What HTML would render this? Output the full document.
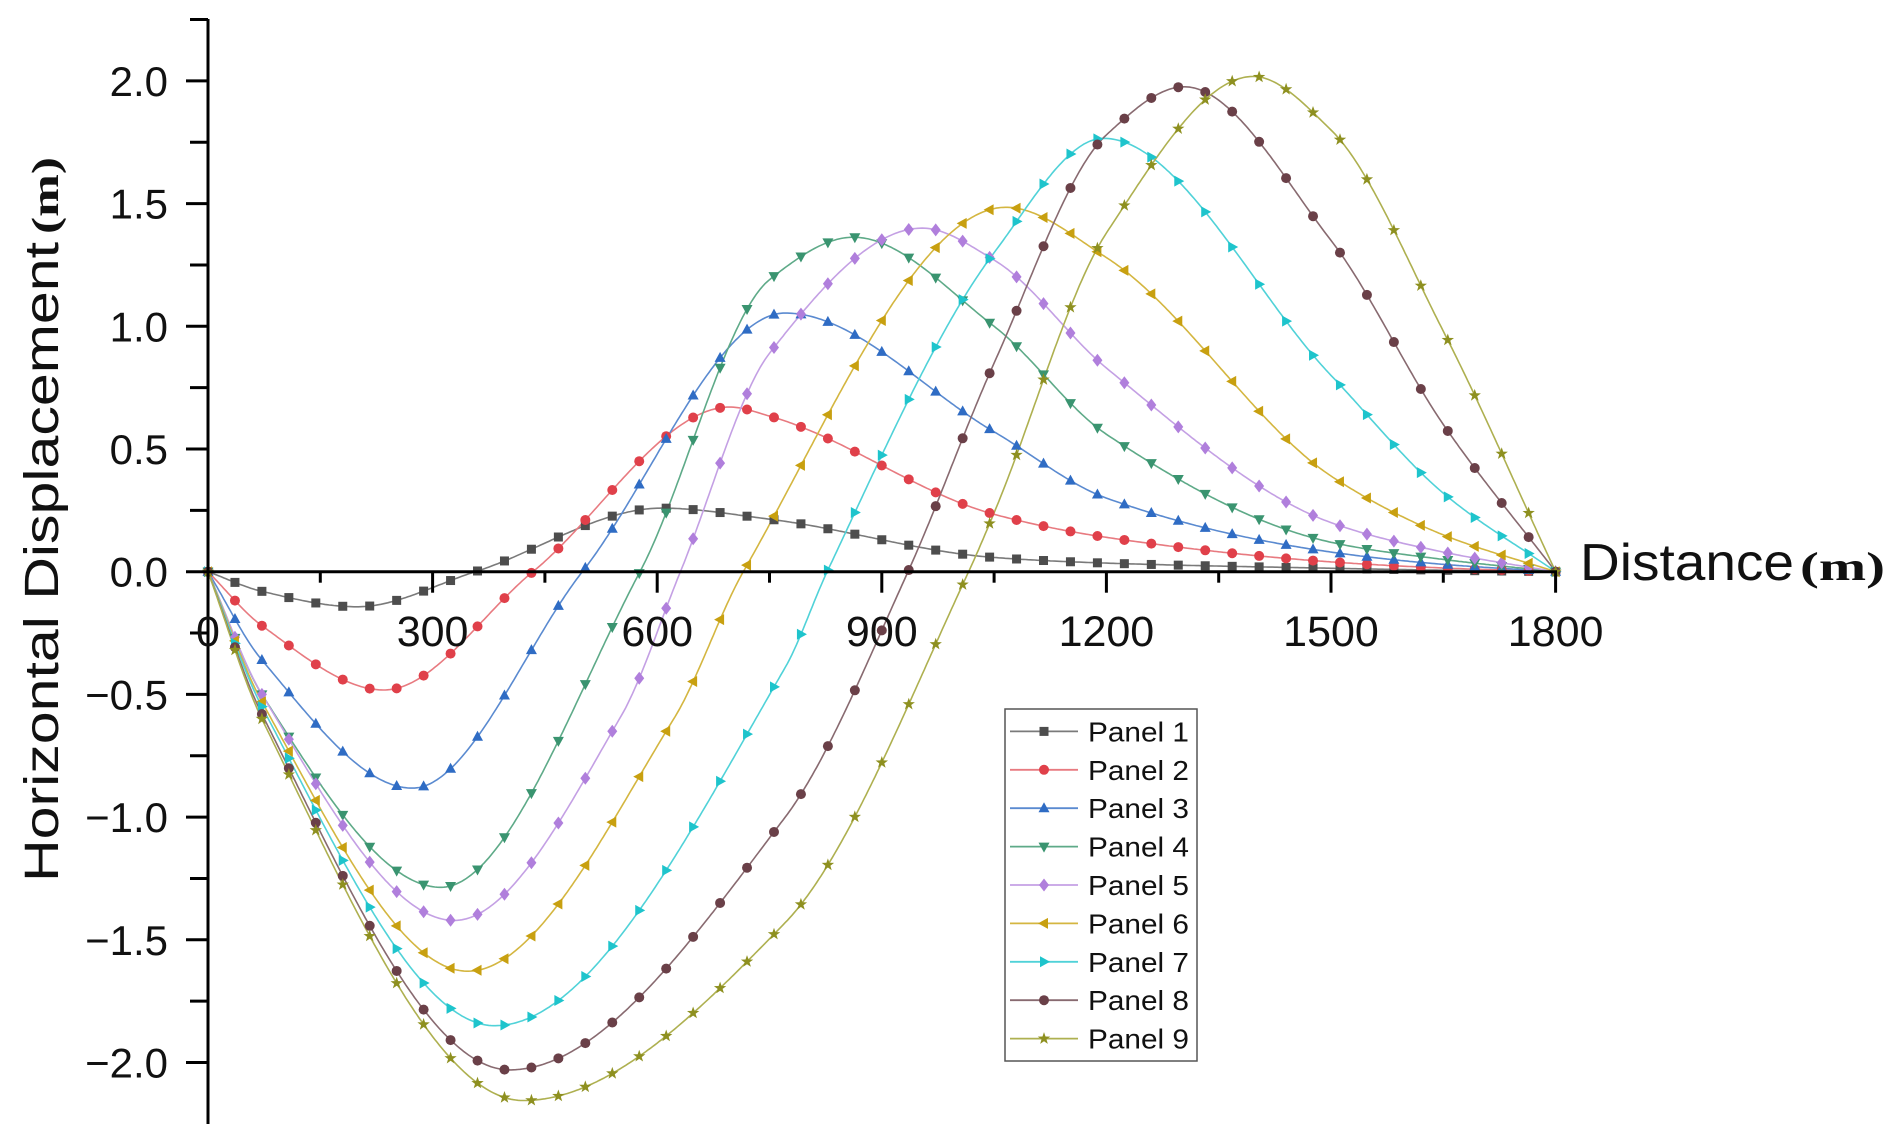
<!DOCTYPE html>
<html><head><meta charset="utf-8"><style>
html,body{margin:0;padding:0;background:#fff;}
svg{display:block;}
</style></head><body>
<svg id="c" width="1895" height="1141" viewBox="0 0 1895 1141" xmlns="http://www.w3.org/2000/svg" font-family="Liberation Sans, Arial, sans-serif">
<rect width="1895" height="1141" fill="#fff"/>
<g id="series"></g>
<g id="axes" stroke="#000" stroke-width="3" fill="none"></g>
<g id="labels" fill="#111"></g>
<g id="legend"></g>
</svg>
<script>
const NS="http://www.w3.org/2000/svg";
const X0=208, XS=224.6/300, Y0=571.7, YS=245.4;
const px=m=>X0+m*XS, py=v=>Y0-v*YS;
function el(tag,attrs,parent,text){const e=document.createElementNS(NS,tag);for(const k in attrs)e.setAttribute(k,attrs[k]);if(text!==undefined)e.textContent=text;parent.appendChild(e);return e;}
const axes=document.getElementById('axes'), labels=document.getElementById('labels'), series=document.getElementById('series'), legend=document.getElementById('legend');
// axes
el('line',{x1:X0,y1:19,x2:X0,y2:1124},axes);
el('line',{x1:X0,y1:Y0,x2:1557,y2:Y0},axes);
for(let i=-8;i<=9;i++){const v=i*0.25;const y=py(v);const major=(i%2===0);
  el('line',{x1:X0-(major?22:18),y1:y,x2:X0,y2:y},axes);
  if(major){el('text',{x:168,y:y+15,'text-anchor':'end','font-size':42},labels,(v<0?'\u2212':'')+Math.abs(v).toFixed(1));}
}
for(let i=1;i<=12;i++){const m=i*150;const x=px(m);const major=(i%2===0);
  el('line',{x1:x,y1:Y0,x2:x,y2:Y0+(major?21:11)},axes);
}
for(let i=0;i<=6;i++){el('text',{x:px(i*300),y:646,'text-anchor':'middle','font-size':43},labels,String(i*300));}
// axis titles
el('text',{x:1580,y:580,'font-size':52,textLength:214,lengthAdjust:'spacingAndGlyphs'},labels,'Distance');
el('text',{x:1800,y:580,'font-size':40,'font-weight':'bold','font-family':'Liberation Serif, serif',textLength:85,lengthAdjust:'spacingAndGlyphs'},labels,'(m)');
const yl=el('g',{transform:'translate(58,882) rotate(-90)'},labels);
el('text',{x:0,y:0,'font-size':48,textLength:640,lengthAdjust:'spacingAndGlyphs'},yl,'Horizontal Displacement');
el('text',{x:648,y:0,'font-size':38,'font-weight':'bold','font-family':'Liberation Serif, serif',textLength:77,lengthAdjust:'spacingAndGlyphs'},yl,'(m)');

const S=[
 {c:'#4d4d4d',l:'#7a7a7a',mk:'sq',p:[[0,0],[72,-0.08],[199,-0.143],[357,0],[606,0.259],[750,0.214],[1050,0.058],[1200,0.035],[1500,0.014],[1650,0.006],[1800,0]]},
 {c:'#e0404a',l:'#e87a80',mk:'ci',p:[[0,0],[72,-0.22],[235,-0.482],[434,0],[697,0.671],[750,0.634],[1050,0.234],[1200,0.14],[1500,0.04],[1650,0.015],[1800,0]]},
 {c:'#2f6cc4',l:'#5a8ad0',mk:'tu',p:[[0,0],[72,-0.36],[273,-0.882],[500,0],[771,1.054],[1050,0.57],[1200,0.30],[1500,0.08],[1650,0.03],[1800,0]]},
 {c:'#3a9470',l:'#5eaa88',mk:'td',p:[[0,0],[72,-0.5],[311,-1.286],[577,0],[750,1.19],[862,1.363],[1050,1.0],[1200,0.56],[1500,0.12],[1650,0.05],[1800,0]]},
 {c:'#b07fdc',l:'#c4a0e4',mk:'di',p:[[0,0],[72,-0.5],[329,-1.421],[552,-0.587],[631,0],[750,0.89],[954,1.40],[1050,1.27],[1200,0.83],[1500,0.2],[1650,0.08],[1800,0]]},
 {c:'#c8a010',l:'#d4b640',mk:'tl',p:[[0,0],[72,-0.53],[347,-1.628],[623,-0.595],[715,0],[1066,1.485],[1200,1.28],[1500,0.39],[1650,0.15],[1800,0]]},
 {c:'#1ec4cc',l:'#50d2d8',mk:'tr',p:[[0,0],[72,-0.55],[383,-1.85],[771,-0.39],[827,0],[1050,1.3],[1196,1.766],[1500,0.8],[1650,0.32],[1800,0]]},
 {c:'#6a4048',l:'#886a70',mk:'ci',p:[[0,0],[72,-0.58],[403,-2.03],[771,-1.0],[935,0],[1050,0.85],[1200,1.78],[1304,1.976],[1500,1.35],[1650,0.6],[1800,0]]},
 {c:'#8e9020',l:'#aeb050',mk:'st',p:[[0,0],[72,-0.6],[421,-2.155],[771,-1.43],[1016,0],[1050,0.24],[1200,1.38],[1396,2.018],[1500,1.8],[1650,0.98],[1800,0]]}
];
function mono(pts){const n=pts.length,x=pts.map(p=>p[0]),y=pts.map(p=>p[1]);const d=[],m=new Array(n);
 for(let i=0;i<n-1;i++)d.push((y[i+1]-y[i])/(x[i+1]-x[i]));
 m[0]=d[0];m[n-1]=d[n-2];
 for(let i=1;i<n-1;i++){if(d[i-1]*d[i]<=0)m[i]=0;else{const w1=2*(x[i+1]-x[i])+(x[i]-x[i-1]),w2=(x[i+1]-x[i])+2*(x[i]-x[i-1]);m[i]=(w1+w2)/(w1/d[i-1]+w2/d[i]);}}
 return t=>{let i=0;while(i<n-2&&t>x[i+1])i++;const h=x[i+1]-x[i],s=(t-x[i])/h;const h00=2*s*s*s-3*s*s+1,h10=s*s*s-2*s*s+s,h01=-2*s*s*s+3*s*s,h11=s*s*s-s*s;return h00*y[i]+h10*h*m[i]+h01*y[i+1]+h11*h*m[i+1];};}
function marker(type,x,y,c,g){const r=5;
 switch(type){
 case 'sq':el('rect',{x:x-4.5,y:y-4.5,width:9,height:9,fill:c},g);break;
 case 'ci':el('circle',{cx:x,cy:y,r:5,fill:c},g);break;
 case 'tu':el('polygon',{points:`${x},${y-6} ${x-5.5},${y+4} ${x+5.5},${y+4}`,fill:c},g);break;
 case 'td':el('polygon',{points:`${x},${y+6} ${x-5.5},${y-4} ${x+5.5},${y-4}`,fill:c},g);break;
 case 'tl':el('polygon',{points:`${x-6},${y} ${x+4},${y-5.5} ${x+4},${y+5.5}`,fill:c},g);break;
 case 'tr':el('polygon',{points:`${x+6},${y} ${x-4},${y-5.5} ${x-4},${y+5.5}`,fill:c},g);break;
 case 'di':el('polygon',{points:`${x},${y-6.5} ${x+5},${y} ${x},${y+6.5} ${x-5},${y}`,fill:c},g);break;
 case 'st':{let p=[];for(let k=0;k<10;k++){const a=-Math.PI/2+k*Math.PI/5,rr=k%2?2.6:6.5;p.push((x+rr*Math.cos(a)).toFixed(1)+','+(y+rr*Math.sin(a)).toFixed(1));}el('polygon',{points:p.join(' '),fill:c},g);break;}
 }}
S.forEach(s=>{const f=mono(s.p);let d='';for(let m=0;m<=1800;m+=3){d+=(m?'L':'M')+px(m).toFixed(1)+','+py(f(m)).toFixed(1);}
 el('path',{d:d,fill:'none',stroke:s.l,'stroke-width':1.6},series);});
S.forEach(s=>{const f=mono(s.p);for(let m=0;m<=1800;m+=36){marker(s.mk,px(m),py(f(m)),s.c,series);}});
// legend
el('rect',{x:1005,y:709,width:192,height:352,fill:'#fff',stroke:'#555','stroke-width':1.5},legend);
S.forEach((s,i)=>{const y=731.4+i*38.4;el('line',{x1:1010,y1:y,x2:1078,y2:y,stroke:s.l,'stroke-width':1.8},legend);marker(s.mk,1044,y,s.c,legend);
 el('text',{x:1088,y:y+10,'font-size':28,fill:'#111',textLength:101,lengthAdjust:'spacingAndGlyphs'},legend,'Panel '+(i+1));});
</script>
</body></html>
